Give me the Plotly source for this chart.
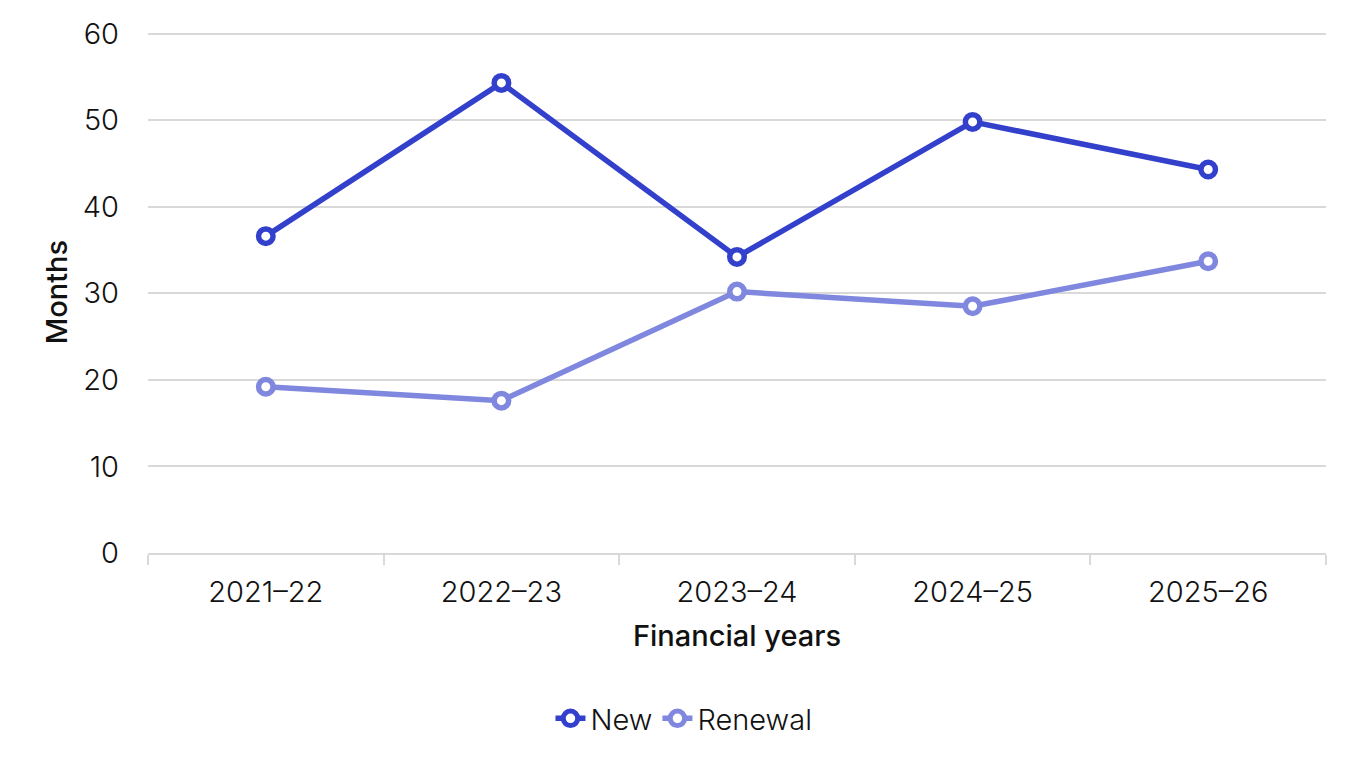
import plotly.graph_objects as go

jahre = ["2021–22", "2022–23", "2023–24", "2024–25", "2025–26"]
neu = [36.6, 54.3, 34.2, 49.8, 44.3]
verlaengerung = [19.2, 17.6, 30.2, 28.5, 33.7]
y_ticks = [0, 10, 20, 30, 40, 50, 60]

farbe_neu = "#3340CC"
farbe_verl = "#7F87DE"

fig = go.Figure()

for name, werte, farbe in [("New", neu, farbe_neu), ("Renewal", verlaengerung, farbe_verl)]:
    fig.add_trace(go.Scatter(
        x=jahre, y=werte, name=name,
        mode="lines+markers",
        line=dict(color=farbe, width=5.5),
        marker=dict(symbol="circle", size=14.5, color="white",
                    line=dict(color=farbe, width=5.5)),
    ))

fig.update_xaxes(
    title=dict(text="Financial years", font=dict(size=29, weight=500), standoff=18),
    tickfont=dict(size=29, weight=300),
    ticklabelstandoff=12,
    automargin="bottom",
    showgrid=False,
    showline=True, linecolor="#D9D9D9", linewidth=2,
    ticks="outside", tickson="boundaries", ticklen=10, tickcolor="#D9D9D9", tickwidth=2,
    range=[-0.5, 4.5],
)

# oberes Gitter bei 60 soll sichtbar bleiben -> Bereich etwas größer
fig.update_yaxes(
    title=dict(text="Months", font=dict(size=29, weight=500), standoff=6),
    tickfont=dict(size=29, weight=300),
    ticklabelstandoff=28,
    automargin="left",
    tickvals=y_ticks,
    range=[0, 60.3],
    showgrid=True, gridcolor="#D9D9D9", gridwidth=2,
    zeroline=False,
)

# Seite hat 8px Rand -> Ränder entsprechend verschoben
fig.update_layout(
    width=1360, height=765,
    template="plotly_white",
    font=dict(family="Inter", color="#111111"),
    plot_bgcolor="white", paper_bgcolor="white",
    margin=dict(l=140, r=42, t=23, b=220),
    showlegend=True,
    legend=dict(orientation="h", x=0.455, xanchor="center", y=-0.317, yanchor="middle",
                font=dict(size=29, weight=300)),
)

fig.write_html("out.html")
